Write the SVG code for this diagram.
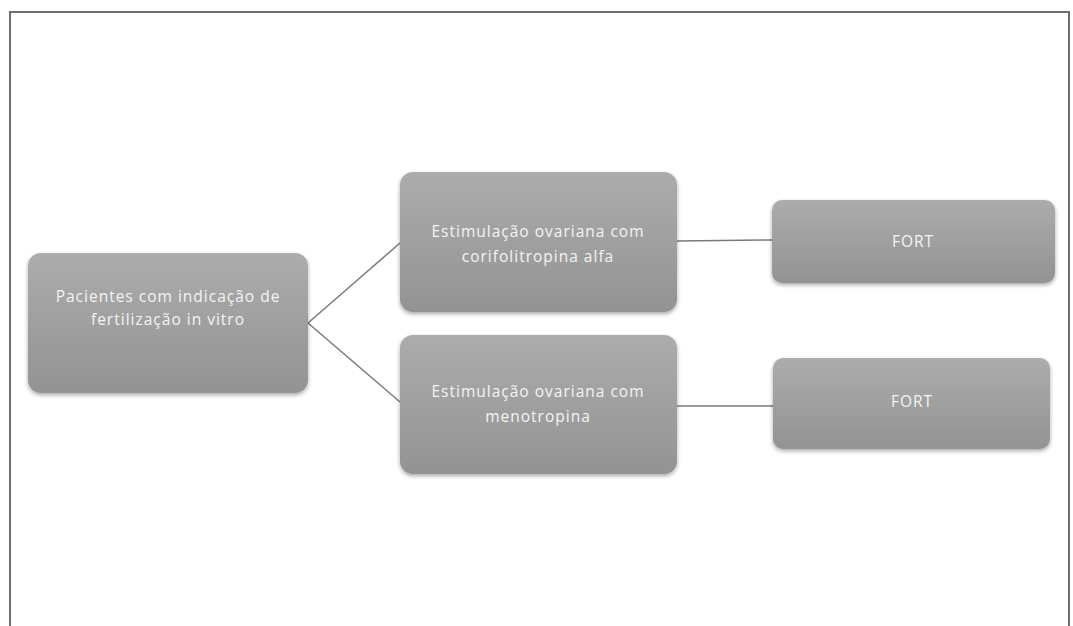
<svg xmlns="http://www.w3.org/2000/svg" width="1073" height="626" viewBox="0 0 1073 626">
<defs>
<linearGradient id="g" x1="0" y1="0" x2="0" y2="1">
<stop offset="0" stop-color="#acacac"/>
<stop offset="1" stop-color="#939393"/>
</linearGradient>
<filter id="sh" x="-10%" y="-10%" width="120%" height="130%">
<feGaussianBlur in="SourceAlpha" stdDeviation="2"/>
<feOffset dx="0" dy="2" result="b"/>
<feComponentTransfer><feFuncA type="linear" slope="0.35"/></feComponentTransfer>
<feMerge><feMergeNode/><feMergeNode in="SourceGraphic"/></feMerge>
</filter>
</defs>
<style>
.box{fill:url(#g);filter:url(#sh);}
.t{font-family:"Open Sans","Liberation Sans",sans-serif;font-size:15.5px;letter-spacing:1px;fill:#f4f4f4;text-anchor:middle;}
.c{stroke:#7a7a7a;stroke-width:1.5;fill:none;}
</style>
<rect x="0" y="0" width="1073" height="626" fill="#ffffff"/>
<path d="M10,630 V12 H1069 V630" fill="none" stroke="#6e6e6e" stroke-width="2"/>
<g id="connectors">
<line class="c" x1="308" y1="323" x2="400" y2="243"/>
<line class="c" x1="308" y1="323" x2="400" y2="402"/>
<line class="c" x1="677" y1="241" x2="772" y2="240"/>
<line class="c" x1="677" y1="406" x2="773" y2="406"/>
</g>
<g id="n1">
<rect class="box" x="28" y="253" width="280" height="140" rx="13"/>
<text class="t" x="168" y="302">Pacientes com indicação de</text>
<text class="t" x="168" y="325">fertilização in vitro</text>
</g>
<g id="n2">
<rect class="box" x="400" y="172" width="277" height="140" rx="13"/>
<text class="t" x="538" y="237">Estimulação ovariana com</text>
<text class="t" x="538" y="262">corifolitropina alfa</text>
</g>
<g id="n3">
<rect class="box" x="400" y="335" width="277" height="139" rx="13"/>
<text class="t" x="538" y="397">Estimulação ovariana com</text>
<text class="t" x="538" y="422">menotropina</text>
</g>
<g id="n4">
<rect class="box" x="772" y="200" width="283" height="83" rx="10"/>
<text class="t" x="913" y="247">FORT</text>
</g>
<g id="n5">
<rect class="box" x="773" y="358" width="277" height="91" rx="10"/>
<text class="t" x="912" y="407">FORT</text>
</g>
</svg>
